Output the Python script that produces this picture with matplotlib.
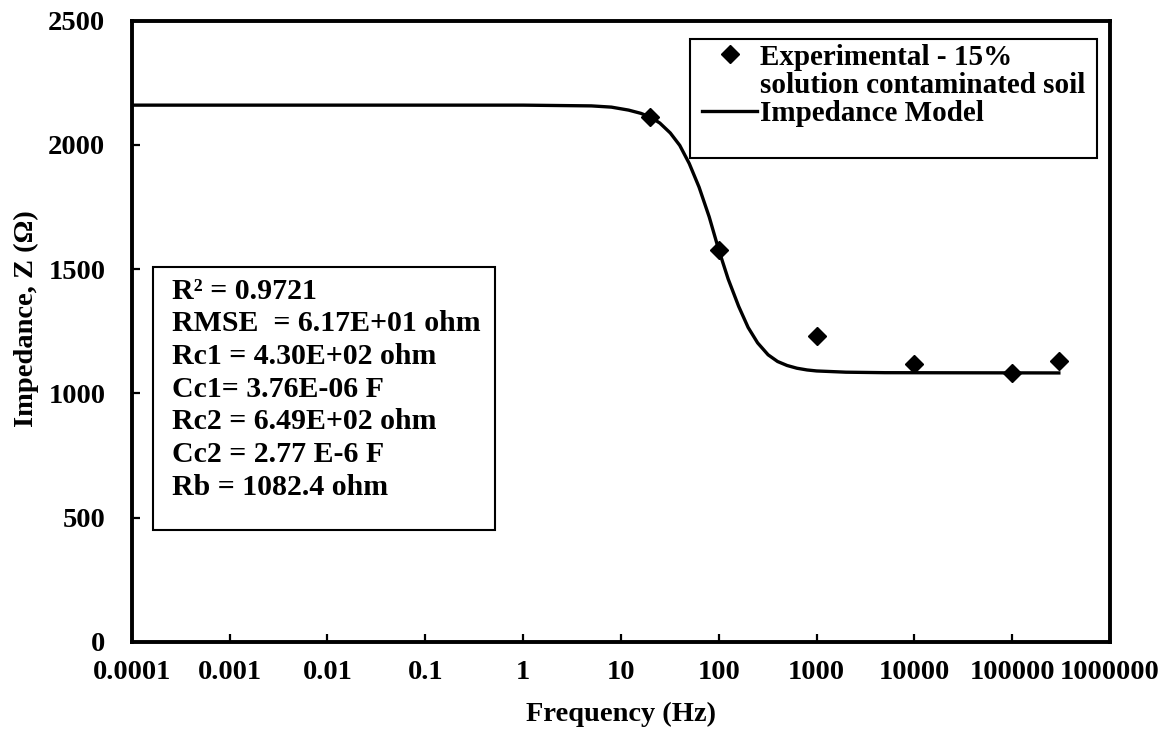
import numpy as np
import matplotlib
matplotlib.use("Agg")
import matplotlib.pyplot as plt
from matplotlib.patches import Rectangle
from matplotlib.lines import Line2D
from matplotlib.ticker import FixedLocator, FixedFormatter, NullLocator

plt.rcParams['font.family'] = ['Liberation Serif', 'DejaVu Serif']
plt.rcParams['font.weight'] = 'bold'
plt.rcParams['axes.labelweight'] = 'bold'
plt.rcParams['font.size'] = 20.5

# measured points
freq_exp = [20, 100, 1000, 10000, 100000, 300000]
z_exp = [2112, 1576, 1231, 1117, 1083, 1131]

# model curve
freq_model = [1e-4, 1e-2, 1, 5, 8, 12, 16, 20, 25, 32, 40, 50, 63, 80, 100, 125,
              160, 200, 250, 320, 400, 500, 630, 800, 1000, 2000, 5000, 300000]
z_model = [2160, 2160, 2160, 2157, 2152, 2140, 2127, 2112, 2088, 2048, 1998, 1925,
           1830, 1710, 1578, 1460, 1350, 1265, 1203, 1155, 1128, 1112, 1101, 1094,
           1090, 1085, 1083, 1082]

x_ticks = [1e-4, 1e-3, 1e-2, 1e-1, 1, 10, 100, 1000, 1e4, 1e5, 1e6]
x_tick_labels = ['0.0001', '0.001', '0.01', '0.1', '1', '10', '100', '1000',
                 '10000', '100000', '1000000']
y_ticks = [0, 500, 1000, 1500, 2000, 2500]

fit_lines = ['R\u00b2 = 0.9721', 'RMSE  = 6.17E+01 ohm', 'Rc1 = 4.30E+02 ohm',
             'Cc1= 3.76E-06 F', 'Rc2 = 6.49E+02 ohm', 'Cc2 = 2.77 E-6 F',
             'Rb = 1082.4 ohm']

fig = plt.figure(figsize=(11.72, 7.36), dpi=100)
ax = fig.add_axes([0.1124, 0.1281, 0.8347, 0.8438])

line_model, = ax.plot(freq_model, z_model, color='black', lw=2.4,
                      label='Impedance Model', zorder=2)
pts, = ax.plot(freq_exp, z_exp, 'D', color='black', ms=9.5, linestyle='none',
               label='Experimental - 15%', zorder=3)

ax.set_xscale('log')
ax.set_xlim(1e-4, 1e6)
ax.set_ylim(0, 2500)
ax.xaxis.set_major_locator(FixedLocator(x_ticks))
ax.xaxis.set_major_formatter(FixedFormatter(x_tick_labels))
ax.xaxis.set_minor_locator(NullLocator())
ax.set_yticks(y_ticks)

for s in ax.spines.values():
    s.set_linewidth(2.8)
ax.tick_params(axis='y', direction='in', length=5.5, width=1.6, pad=19)
ax.tick_params(axis='x', direction='in', length=5.5, width=1.6, pad=13)

ax.set_xlabel('Frequency (Hz)', labelpad=12)
ax.set_ylabel('Impedance, Z (\u03a9)')
ax.yaxis.set_label_coords(-0.095, 0.52)

# legend frame (Excel-style, with empty space under the entries)
ax.add_patch(Rectangle((0.5707, 0.7789), 0.416, 0.1916, transform=ax.transAxes,
                       fill=True, facecolor='white', edgecolor='black', lw=1.5,
                       zorder=4))
blank = Line2D([], [], linestyle='none', marker='none')
leg = ax.legend(handles=[pts, blank, line_model],
                labels=['Experimental - 15%', 'solution contaminated soil',
                        'Impedance Model'],
                loc='upper left', bbox_to_anchor=(0.583, 0.963), frameon=False,
                fontsize=21, handlelength=1.9, handletextpad=0.1,
                labelspacing=0.04, borderpad=0.0, borderaxespad=0.0, numpoints=1)
leg.set_zorder(5)

# fit parameters box
ax.add_patch(Rectangle((0.0215, 0.18), 0.35, 0.4237, transform=ax.transAxes,
                       fill=True, facecolor='white', edgecolor='black', lw=1.5,
                       zorder=4))
ax.text(0.0412, 0.586, '\n'.join(fit_lines), transform=ax.transAxes,
        ha='left', va='top', fontsize=21.5, linespacing=1.27, zorder=5)

fig.savefig('out.png', dpi=100)
